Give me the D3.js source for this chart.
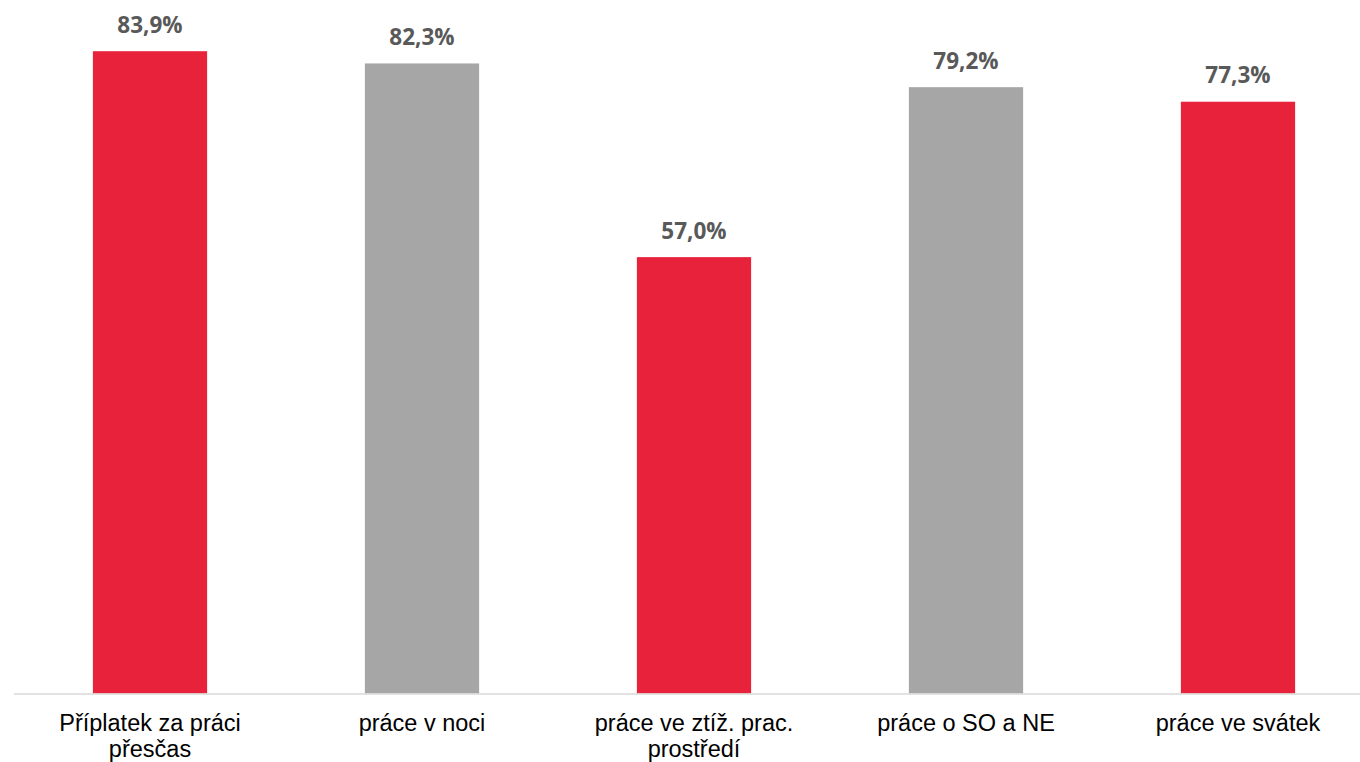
<!DOCTYPE html>
<html><head><meta charset="utf-8">
<script src="https://cdn.jsdelivr.net/npm/d3@7"></script>
<style>body{margin:0;background:#fff}svg{display:block}</style>
</head><body>
<svg id="c" width="1360" height="762"></svg>
<script>
const categories = ["Příplatek za práci přesčas","práce v noci","práce ve ztíž. prac. prostředí","práce o SO a NE","práce ve svátek"];
const labelLines = [["Příplatek za práci","přesčas"],["práce v noci"],["práce ve ztíž. prac.","prostředí"],["práce o SO a NE"],["práce ve svátek"]];
const values = [83.9, 82.3, 57.0, 79.2, 77.3];
const colors = ["#E8223A","#A6A6A6","#E8223A","#A6A6A6","#E8223A"];

const svg = d3.select("#c");
const x = d3.scaleBand().domain(categories).range([14,1374]).paddingInner(0.58).paddingOuter(0.29);
const y = d3.scaleLinear().domain([0,90]).range([693.5,4.5]);

svg.selectAll("rect.bar").data(values).join("rect")
  .attr("x",(d,i)=>x(categories[i])).attr("width",x.bandwidth())
  .attr("y",d=>y(d)).attr("height",d=>y(0)-y(d)).attr("fill",(d,i)=>colors[i]);

svg.append("line").attr("x1",14).attr("x2",1360).attr("y1",y(0)+0.5).attr("y2",y(0)+0.5)
  .attr("stroke","#d9d9d9").attr("stroke-width",1.5);

svg.selectAll("text.val").data(values).join("text")
  .attr("x",(d,i)=>x(categories[i])+x.bandwidth()/2).attr("y",d=>y(d)-18.5)
  .attr("text-anchor","middle").attr("font-family","'Open Sans'").attr("font-weight","bold")
  .attr("font-size",22.5).attr("fill","#595959")
  .text(d=>d.toFixed(1).replace(".",",")+"%");

const g = svg.selectAll("text.cat").data(labelLines).join("text")
  .attr("text-anchor","middle").attr("font-family","'Liberation Sans', Arial").attr("font-size",23.5).attr("fill","#000");
g.selectAll("tspan").data((d,i)=>d.map(l=>({l,i}))).join("tspan")
  .attr("x",d=>x(categories[d.i])+x.bandwidth()/2).attr("y",(d,j)=>731+j*26).text(d=>d.l);
</script>
</body></html>
